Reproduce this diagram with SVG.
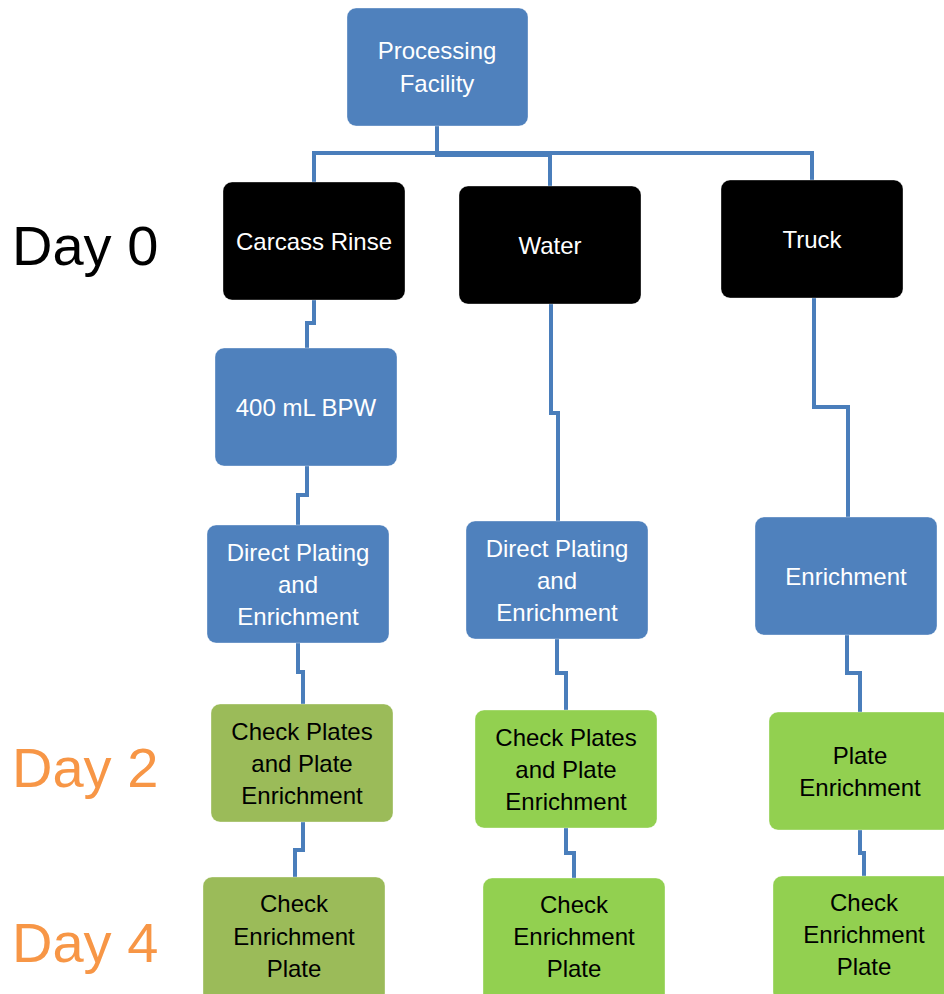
<svg xmlns="http://www.w3.org/2000/svg" width="944" height="994" viewBox="0 0 944 994">
<style>
.blue{fill:#4F81BD}
.black{fill:#000000}
.olive{fill:#9BBB59}
.lime{fill:#92D050}
rect{stroke:#ffffff;stroke-opacity:0.35;stroke-width:1}
text{font-family:"Liberation Sans",Arial,sans-serif;font-size:24px;text-anchor:middle}
.w{fill:#ffffff}
.k{fill:#000000}
.day{font-size:56px;text-anchor:start}
.conn path{fill:none;stroke:#4A7EBB;stroke-width:4}
</style>
<rect width="944" height="994" fill="#ffffff" stroke="none"/>
<g class="conn">
<path d="M437,126 V155 H550 V186"/>
<path d="M437,126 V153 H314 V182"/>
<path d="M437,153 H812 V180"/>
<path d="M314,300 V323 H307 V348"/>
<path d="M307,466 V495 H298 V525"/>
<path d="M551,304 V413 H558 V521"/>
<path d="M814,298 V407 H848 V517"/>
<path d="M298,643 V672 H303 V704"/>
<path d="M303,822 V850 H295 V877"/>
<path d="M557,639 V673 H566 V710"/>
<path d="M566,828 V853 H574 V878"/>
<path d="M847,635 V673 H860 V712"/>
<path d="M860,830 V853 H864 V876"/>
</g>
<text class="day k" x="12" y="265">Day 0</text>
<text class="day" x="12" y="787" fill="#F79646">Day 2</text>
<text class="day" x="12" y="962" fill="#F79646">Day 4</text>
<g id="processing"><rect class="blue" x="347" y="8" width="181" height="118" rx="9"/><text class="w" x="437" y="59">Processing</text><text class="w" x="437" y="92">Facility</text></g>
<g id="carcass"><rect class="black" x="223" y="182" width="182" height="118" rx="9"/><text class="w" x="314" y="250">Carcass Rinse</text></g>
<g id="water"><rect class="black" x="459" y="186" width="182" height="118" rx="9"/><text class="w" x="550" y="254">Water</text></g>
<g id="truck"><rect class="black" x="721" y="180" width="182" height="118" rx="9"/><text class="w" x="812" y="248">Truck</text></g>
<g id="bpw"><rect class="blue" x="215" y="348" width="182" height="118" rx="9"/><text class="w" x="306" y="416">400 mL BPW</text></g>
<g id="dp1"><rect class="blue" x="207" y="525" width="182" height="118" rx="9"/><text class="w" x="298" y="561">Direct Plating</text><text class="w" x="298" y="593">and</text><text class="w" x="298" y="625">Enrichment</text></g>
<g id="dp2"><rect class="blue" x="466" y="521" width="182" height="118" rx="9"/><text class="w" x="557" y="557">Direct Plating</text><text class="w" x="557" y="589">and</text><text class="w" x="557" y="621">Enrichment</text></g>
<g id="enr"><rect class="blue" x="755" y="517" width="182" height="118" rx="9"/><text class="w" x="846" y="585">Enrichment</text></g>
<g id="cp1"><rect class="olive" x="211" y="704" width="182" height="118" rx="9"/><text class="k" x="302" y="740">Check Plates</text><text class="k" x="302" y="772">and Plate</text><text class="k" x="302" y="804">Enrichment</text></g>
<g id="cp2"><rect class="lime" x="475" y="710" width="182" height="118" rx="9"/><text class="k" x="566" y="746">Check Plates</text><text class="k" x="566" y="778">and Plate</text><text class="k" x="566" y="810">Enrichment</text></g>
<g id="pe"><rect class="lime" x="769" y="712" width="182" height="118" rx="9"/><text class="k" x="860" y="764">Plate</text><text class="k" x="860" y="796">Enrichment</text></g>
<g id="ce1"><rect class="olive" x="203" y="877" width="182" height="125" rx="9"/><text class="k" x="294" y="912">Check</text><text class="k" x="294" y="945">Enrichment</text><text class="k" x="294" y="977">Plate</text></g>
<g id="ce2"><rect class="lime" x="483" y="878" width="182" height="125" rx="9"/><text class="k" x="574" y="913">Check</text><text class="k" x="574" y="945">Enrichment</text><text class="k" x="574" y="977">Plate</text></g>
<g id="ce3"><rect class="lime" x="773" y="876" width="182" height="125" rx="9"/><text class="k" x="864" y="911">Check</text><text class="k" x="864" y="943">Enrichment</text><text class="k" x="864" y="975">Plate</text></g>
</svg>
